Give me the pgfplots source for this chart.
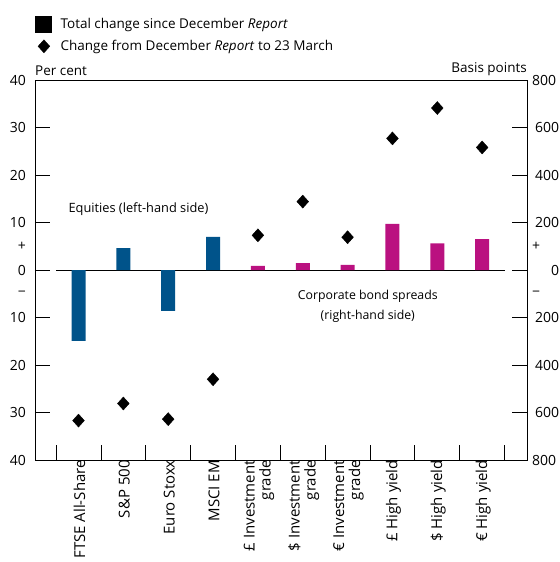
\documentclass[border=0pt]{standalone}
\usepackage{fontspec}
\setmainfont{Open Sans}
\usepackage{pgfplots}
\pgfplotsset{compat=1.18}
\usepackage{pgfplotstable}

\definecolor{boeblue}{RGB}{0,83,138}
\definecolor{boepink}{RGB}{186,17,128}

% equities, per cent
\pgfplotstableread{
x total change
0 -14.9 -31.7
1 4.6 -28.1
2 -8.6 -31.4
3 7.0 -23.0
}\equities
% corporate bond spreads, basis points
\pgfplotstableread{
x total change
4 17 146
5 29 288
6 22 138
7 194 554
8 112 682
9 130 516
}\bonds

\begin{document}
\begin{tikzpicture}[font=\fontsize{13.5}{15.5}\selectfont]
\pgfplotsset{
  common/.style={
    scale only axis, width=492pt, height=380pt,
    xmin=-0.97, xmax=10,
    tick align=inside, major tick length=15pt, minor tick length=15pt,
    tick style={black, line width=0.8pt},
    axis line style={line width=0.8pt},
    /pgf/number format/assume math mode=true,
  },
}
\begin{axis}[common,
  ymin=-40, ymax=40,
  ytick={-30,-20,-10,0,10,20,30},
  yticklabels={30,20,10,0,10,20,30},
  extra y ticks={-40,-5,5,40},
  extra y tick labels={40,−,+,40},
  extra y tick style={major tick length=0pt},
  ytick pos=left,
  yticklabel style={inner sep=0pt, xshift=-9pt, font=\fontsize{14}{16}\selectfont},
  xtick={0,...,9},
  xticklabels={FTSE All-Share, S\&P 500, Euro Stoxx, MSCI EM,
    {£ Investment\\grade}, {\$ Investment\\grade}, {€ Investment\\grade},
    £ High yield, \$ High yield, € High yield},
  xticklabel style={rotate=90, anchor=east, align=right, inner sep=0pt, yshift=-1pt,
    font=\fontsize{15}{16}\selectfont},
  xtick pos=bottom,
  major x tick style={draw=none},
  minor xtick={-0.5,0.5,1.5,2.5,3.5,4.5,5.5,6.5,7.5,8.5,9.5},
  legend style={at={(0,1)}, anchor=south west, draw=none, fill=none,
    inner sep=0pt, yshift=27pt, row sep=7pt,
    nodes={inner sep=0pt},
    /tikz/every odd column/.append style={column sep=9pt}},
  legend cell align=left,
  clip=false,
]
\addlegendimage{legend image code/.code={\fill[black] (0pt,-8pt) rectangle (16pt,8pt);}}
\addlegendentry{Total change since December \textit{Report}}
\addlegendimage{only marks, mark=diamond*, mark size=6.5pt, black, mark options={xscale=1.2}}
\addlegendentry{Change from December \textit{Report} to 23 March}

\draw[line width=0.8pt] (axis cs:-0.5,0) -- (axis cs:9.5,0);
\addplot[ybar, bar width=14pt, bar shift=0pt, fill=boeblue, draw=none, forget plot]
  table[x=x, y=total] {\equities};
\addplot[only marks, mark=diamond*, mark size=6.5pt, black, mark options={xscale=1.2}, forget plot]
  table[x=x, y=change] {\equities};
\node[anchor=west, font=\fontsize{12.8}{14}\selectfont] at (axis cs:-0.3,12.8) {Equities (left-hand side)};
\node[align=center, font=\fontsize{12.3}{19.5}\selectfont] at (axis cs:6.45,-7.6) {Corporate bond spreads\\(right-hand side)};
\node[anchor=south west, inner sep=0pt] at (rel axis cs:0,1) [yshift=4pt] {Per cent};
\node[anchor=south east, inner sep=0pt] at (rel axis cs:1,1) [yshift=4pt] {Basis points};
\end{axis}

\begin{axis}[common,
  ymin=-800, ymax=800,
  axis y line*=right, axis x line=none,
  ytick={-600,-400,-200,0,200,400,600},
  yticklabels={600,400,200,0,200,400,600},
  extra y ticks={-800,-100,100,800},
  extra y tick labels={800,−,+,800},
  extra y tick style={major tick length=0pt, yticklabel style={align=left}},
  yticklabel style={anchor=west, inner sep=0pt, text width=27pt, align=right, xshift=5pt,
    font=\fontsize{14}{16}\selectfont},
]
\addplot[ybar, bar width=14pt, bar shift=0pt, fill=boepink, draw=none]
  table[x=x, y=total] {\bonds};
\addplot[only marks, mark=diamond*, mark size=6.5pt, black, mark options={xscale=1.2}]
  table[x=x, y=change] {\bonds};
\end{axis}
\pgfresetboundingbox
\path (current axis.south west) ++(-35pt,-102pt) rectangle ([shift={(33pt,80pt)}]current axis.north east);
\end{tikzpicture}
\end{document}
